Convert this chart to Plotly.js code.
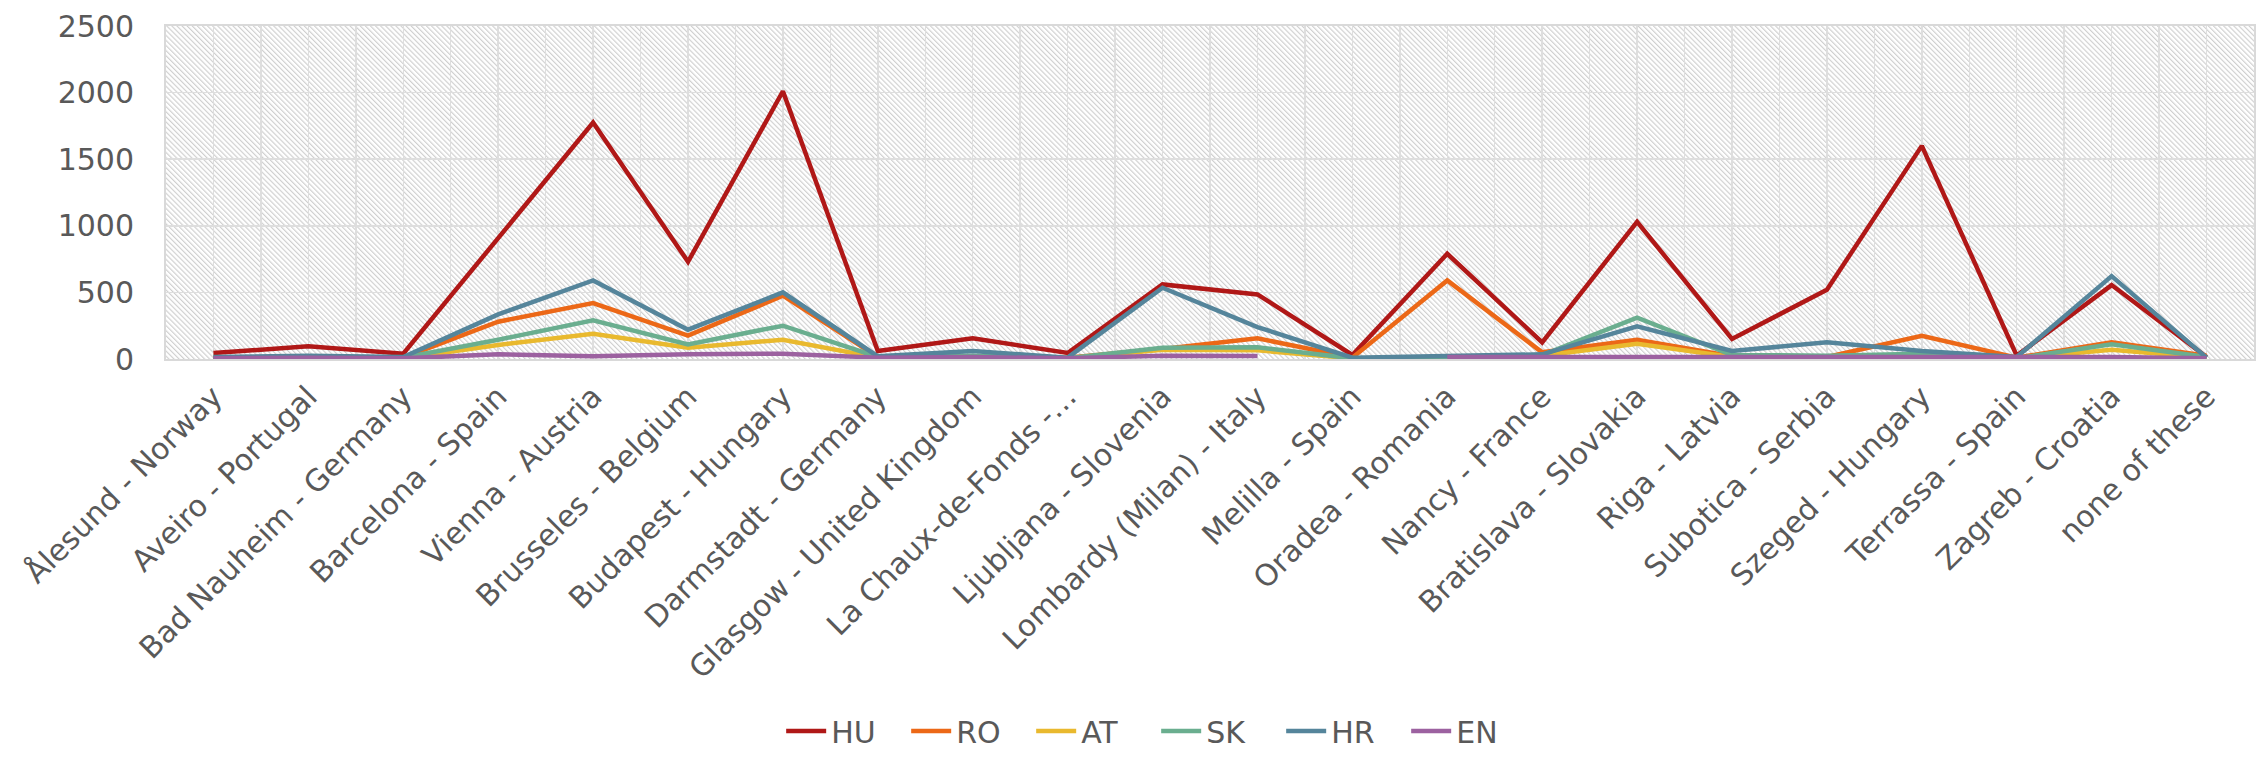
<!DOCTYPE html>
<html>
<head>
<meta charset="utf-8">
<script src="https://cdn.plot.ly/plotly-3.0.1.min.js"></script>
<style>
html,body{margin:0;padding:0;background:#fff;}
#chart{width:2267px;height:757px;}
</style>
</head>
<body>
<div id="chart"></div>
<script>
var categories = ["Ålesund - Norway", "Aveiro - Portugal", "Bad Nauheim - Germany", "Barcelona - Spain",
  "Vienna - Austria", "Brusseles - Belgium", "Budapest - Hungary", "Darmstadt - Germany",
  "Glasgow - United Kingdom", "La Chaux-de-Fonds -…", "Ljubljana - Slovenia", "Lombardy (Milan) - Italy",
  "Melilla - Spain", "Oradea - Romania", "Nancy - France", "Bratislava - Slovakia", "Riga - Latvia",
  "Subotica - Serbia", "Szeged - Hungary", "Terrassa - Spain", "Zagreb - Croatia", "none of these"];

var HU = [45, 95, 40, 905, 1775, 730, 2010, 60, 155, 45, 560, 485, 30, 790, 125, 1030, 150, 520, 1600, 25, 555, 15];
var RO = [10, 15, 10, 280, 420, 175, 475, 15, 20, 10, 75, 155, 10, 590, 50, 145, 20, 15, 175, 10, 125, 25];
var AT = [5, 10, 5, 105, 190, 85, 145, 10, 15, 5, 70, 65, 5, 5, 25, 115, 15, 5, 25, 5, 70, 10];
var SK = [10, 15, 10, 145, 290, 110, 250, 15, 25, 5, 85, 88, 5, 10, 30, 310, 30, 25, 40, 5, 110, 15];
var HR = [15, 25, 15, 335, 590, 220, 500, 20, 60, 10, 535, 240, 10, 25, 35, 245, 60, 125, 60, 15, 622, 10];
var EN = [5, 10, 5, 35, 20, 35, 40, 10, 15, 5, 25, 22, null, 15, 15, 15, 15, 15, 15, 10, 15, 5];

var seriesNames = ["HU", "RO", "AT", "SK", "HR", "EN"];
var seriesValues = [HU, RO, AT, SK, HR, EN];
var seriesColors = ["#b01817", "#ec6817", "#e9b92e", "#6aae8f", "#55859b", "#9c61a0"];

var idx = categories.map(function (c, i) { return i; });

var traces = seriesNames.map(function (name, k) {
  return {
    type: "scatter",
    mode: "lines",
    name: name,
    x: idx,
    y: seriesValues[k],
    line: {color: seriesColors[k], width: 4.5},
    connectgaps: false
  };
});

var svg = "<svg xmlns='http://www.w3.org/2000/svg' width='2088' height='333' viewBox='0 0 2088 333' preserveAspectRatio='none'>" +
  "<defs><pattern id='p' width='3.6' height='3.6' patternUnits='userSpaceOnUse' patternTransform='rotate(-45)'>" +
  "<line x1='0.6' y1='0' x2='0.6' y2='3.6' stroke='#cdcdcd' stroke-width='1.1'/></pattern></defs>" +
  "<rect width='2088' height='333' fill='#ffffff'/><rect width='2088' height='333' fill='url(#p)'/></svg>";
var bgSrc = "data:image/svg+xml;charset=utf-8," + encodeURIComponent(svg);

var font = {family: "DejaVu Sans, sans-serif", size: 30, color: "#595959"};

var layout = {
  width: 2267,
  height: 757,
  margin: {l: 166, r: 13, t: 26, b: 398},
  paper_bgcolor: "#ffffff",
  plot_bgcolor: "rgba(0,0,0,0)",
  font: font,
  showlegend: true,
  legend: {
    orientation: "h",
    xref: "container", yref: "container",
    x: 0.51, xanchor: "center",
    y: 0, yanchor: "bottom",
    font: font,
    itemwidth: 40,
    entrywidth: 70,
    tracegroupgap: 0
  },
  xaxis: {
    type: "linear",
    range: [-0.5, 21.5],
    tickmode: "array",
    tickvals: idx,
    ticktext: categories,
    tickangle: -45,
    ticks: "",
    ticklabelstandoff: 6,
    showgrid: true,
    gridcolor: "#dedede",
    gridwidth: 1.5,
    minor: {tickmode: "linear", tick0: -0.5, dtick: 1, showgrid: true, gridcolor: "#dedede", gridwidth: 1.5, ticks: ""},
    zeroline: false,
    showline: true,
    mirror: true,
    linecolor: "#d9d9d9",
    linewidth: 2,
    tickfont: font,
    fixedrange: true
  },
  yaxis: {
    range: [0, 2500],
    tickmode: "linear",
    tick0: 0,
    dtick: 500,
    ticks: "",
    ticklabelstandoff: 24,
    showgrid: true,
    gridcolor: "#dedede",
    gridwidth: 1.5,
    zeroline: false,
    showline: true,
    mirror: true,
    linecolor: "#d9d9d9",
    linewidth: 2,
    tickfont: font,
    fixedrange: true
  },
  images: [{
    source: bgSrc,
    xref: "paper", yref: "paper",
    x: 0, y: 1, sizex: 1, sizey: 1,
    xanchor: "left", yanchor: "top",
    sizing: "stretch",
    layer: "below"
  }]
};

Plotly.newPlot("chart", traces, layout, {displayModeBar: false, staticPlot: true});
</script>
</body>
</html>
